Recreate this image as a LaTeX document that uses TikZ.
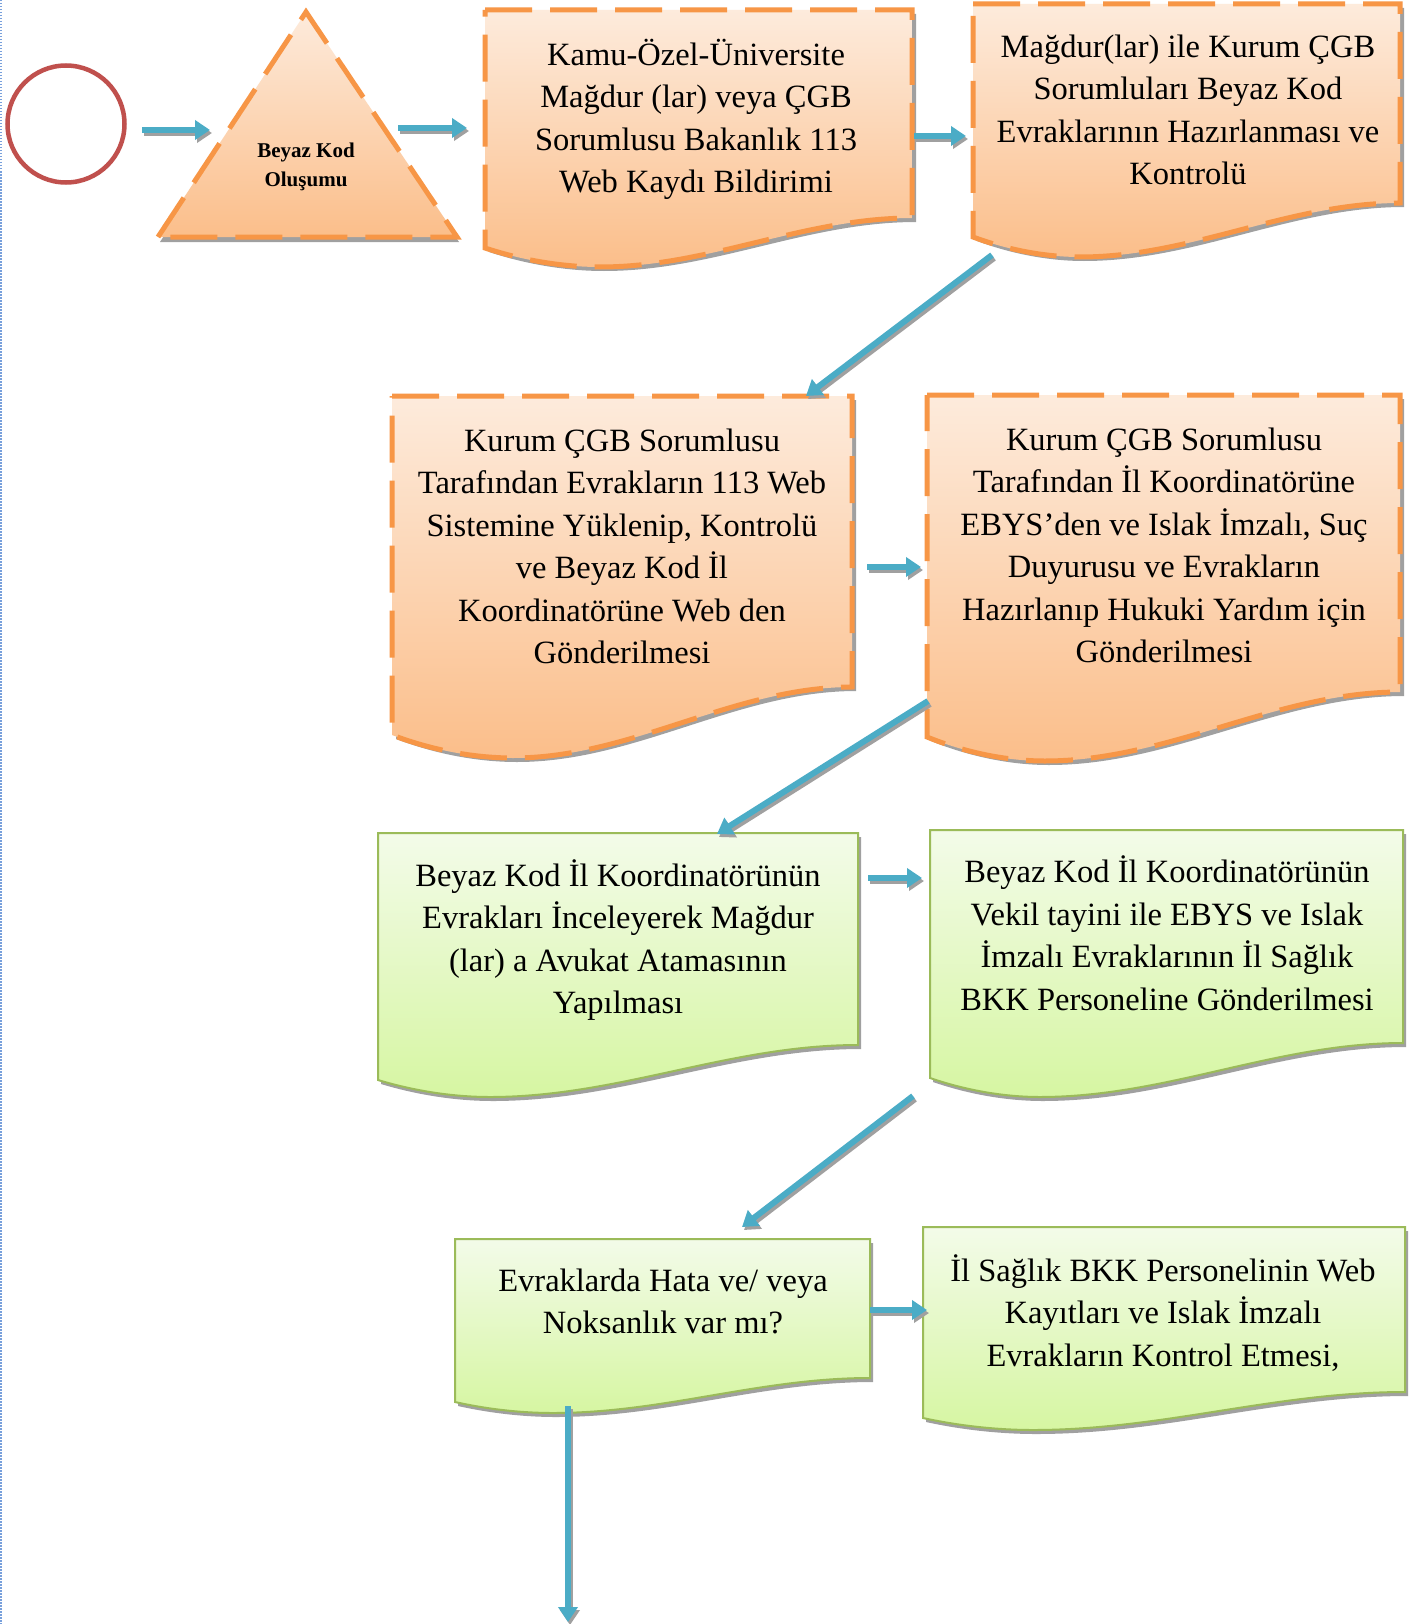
\documentclass[tikz,border=0pt]{standalone}
\usepackage{fontspec}
\setmainfont{Liberation Serif}
\usetikzlibrary{arrows.meta}
\definecolor{orTop}{RGB}{253,235,220}
\definecolor{orBot}{RGB}{251,190,138}
\definecolor{orLine}{RGB}{247,150,70}
\definecolor{grTop}{RGB}{243,251,233}
\definecolor{grBot}{RGB}{214,246,162}
\definecolor{grLine}{RGB}{155,187,89}
\definecolor{arrBlue}{RGB}{75,172,198}
\definecolor{shadowGray}{RGB}{160,160,160}
\definecolor{circRed}{RGB}{192,80,77}
\definecolor{pageBlue}{RGB}{120,160,220}
% document shape: L, R, Top, yRight, yLeft, xMin, yMin
\newcommand\docpath[7]{(#1,#3) -- (#2,#3) -- (#2,#4) .. controls ({#2-0.35*(#2-#6)},#4) and ({#6+0.35*(#2-#6)},#7) .. (#6,#7) .. controls ({#6-0.35*(#6-#1)},#7) and ({#1+0.3*(#6-#1)},{#5+0.6*(#7-#5)}) .. (#1,#5) -- cycle}
\newcommand\docbox[9]{%
  \fill[shadowGray, shift={(#9)}] \docpath{#2}{#3}{#4}{#5}{#6}{#7}{#8};
  \path[#1] \docpath{#2}{#3}{#4}{#5}{#6}{#7}{#8};}
\tikzset{
  orbox/.style={draw=orLine, line width=5pt, dash pattern=on 47pt off 18pt, top color=orTop, bottom color=orBot},
  grbox/.style={draw=grLine, line width=2pt, top color=grTop, bottom color=grBot},
  txt/.style={align=center, inner sep=0pt, font=\fontsize{32.5}{42.5}\selectfont},
  tritxt/.style={align=center, inner sep=0pt, font=\fontsize{21}{29}\selectfont\bfseries},
  flowarr/.style={draw=arrBlue, line width=6pt, -{Triangle[length=15pt,width=19pt]}},
  flowshd/.style={draw=shadowGray, line width=6pt, -{Triangle[length=15pt,width=19pt]}}
}
\begin{document}
\begin{tikzpicture}[x=1pt,y=-1pt]
\useasboundingbox (0,0) rectangle (1417,1624);
\fill[white] (0,0) rectangle (1417,1624);
\draw[pageBlue, line width=1.5pt, dash pattern=on 1.5pt off 1.5pt] (1,0) -- (1,1624);

% start circle
\node[draw=circRed, line width=4.5pt, circle, minimum size=117pt, inner sep=0pt] (start) at (66,124) {};

% triangle
\fill[shadowGray, shift={(2,5)}] (158,237) -- (306,12) -- (457,237) -- cycle;
\path[orbox] (158,237) -- (306,12) -- (457,237) -- cycle;
\node[tritxt] (t0) at (306,166.7) {\strut Beyaz Kod\\\strut Oluşumu};

% orange document boxes
\docbox{orbox}{485}{912}{10}{218}{248}{600}{267}{4,4}
\docbox{orbox}{973}{1400}{4}{203}{237}{1080}{257}{4,4}
\docbox{orbox}{392}{852}{396}{687}{735}{513}{758}{4,4}
\docbox{orbox}{927}{1400}{395}{692}{737}{1045}{761}{4,4}
% green document boxes
\docbox{grbox}{378}{858}{833}{1045}{1080}{490}{1097}{3,4}
\docbox{grbox}{930}{1403}{830}{1043}{1078}{1040}{1097}{3,4}
\docbox{grbox}{455}{870}{1239}{1378}{1402}{553}{1413}{3,4}
\docbox{grbox}{923}{1405}{1227}{1392}{1418}{1033}{1430}{3,4}

% texts
\node[txt] (t1) at (696,120.5) {\strut Kamu-Özel-Üniversite\\\strut Mağdur (lar) veya ÇGB\\\strut Sorumlusu Bakanlık 113\\\strut Web Kaydı Bildirimi};
\node[txt] (t2) at (1188,112.5) {\strut Mağdur(lar) ile Kurum ÇGB\\\strut Sorumluları Beyaz Kod\\\strut Evraklarının Hazırlanması ve\\\strut Kontrolü};
\node[txt] (t3) at (622,549) {\strut Kurum ÇGB Sorumlusu\\\strut Tarafından Evrakların 113 Web\\\strut Sistemine Yüklenip, Kontrolü\\\strut ve Beyaz Kod İl\\\strut Koordinatörüne Web den\\\strut Gönderilmesi};
\node[txt] (t4) at (1164,548) {\strut Kurum ÇGB Sorumlusu\\\strut Tarafından İl Koordinatörüne\\\strut EBYS’den ve Islak İmzalı, Suç\\\strut Duyurusu ve Evrakların\\\strut Hazırlanıp Hukuki Yardım için\\\strut Gönderilmesi};
\node[txt] (t5) at (618,941.5) {\strut Beyaz Kod İl Koordinatörünün\\\strut Evrakları İnceleyerek Mağdur\\\strut (lar) a Avukat Atamasının\\\strut Yapılması};
\node[txt] (t6) at (1167,938) {\strut Beyaz Kod İl Koordinatörünün\\\strut Vekil tayini ile EBYS ve Islak\\\strut İmzalı Evraklarının İl Sağlık\\\strut BKK Personeline Gönderilmesi};
\node[txt] (t7) at (663,1304) {\strut Evraklarda Hata ve/ veya\\\strut Noksanlık var mı?};
\node[txt] (t8) at (1163,1315) {\strut İl Sağlık BKK Personelinin Web\\\strut Kayıtları ve Islak İmzalı\\\strut Evrakların Kontrol Etmesi,};

% connector end points
\coordinate (a1s) at (142,130);  \coordinate (a1e) at (210,130);
\coordinate (a2s) at (398,128);  \coordinate (a2e) at (467,128);
\coordinate (a3s) at (914,136);  \coordinate (a3e) at (966,136);
\coordinate (a4s) at (992,255);  \coordinate (a4e) at (806,396);
\coordinate (a5s) at (867,567);  \coordinate (a5e) at (921,567);
\coordinate (a6s) at (928,701);  \coordinate (a6e) at (717,834);
\coordinate (a7s) at (868,878);  \coordinate (a7e) at (922,878);
\coordinate (a8s) at (913,1096); \coordinate (a8e) at (742,1227);
\coordinate (a9s) at (870,1310); \coordinate (a9e) at (927,1310);
\coordinate (a10s) at (568,1406); \coordinate (a10e) at (568,1622);

\foreach \s/\e in {a1s/a1e,a2s/a2e,a3s/a3e,a4s/a4e,a5s/a5e,a6s/a6e,a7s/a7e,a8s/a8e,a9s/a9e,a10s/a10e}{
  \draw[flowshd] ([shift={(2,3)}]\s) -- ([shift={(2,3)}]\e);
  \draw[flowarr] (\s) -- (\e);
}
\end{tikzpicture}
\end{document}
